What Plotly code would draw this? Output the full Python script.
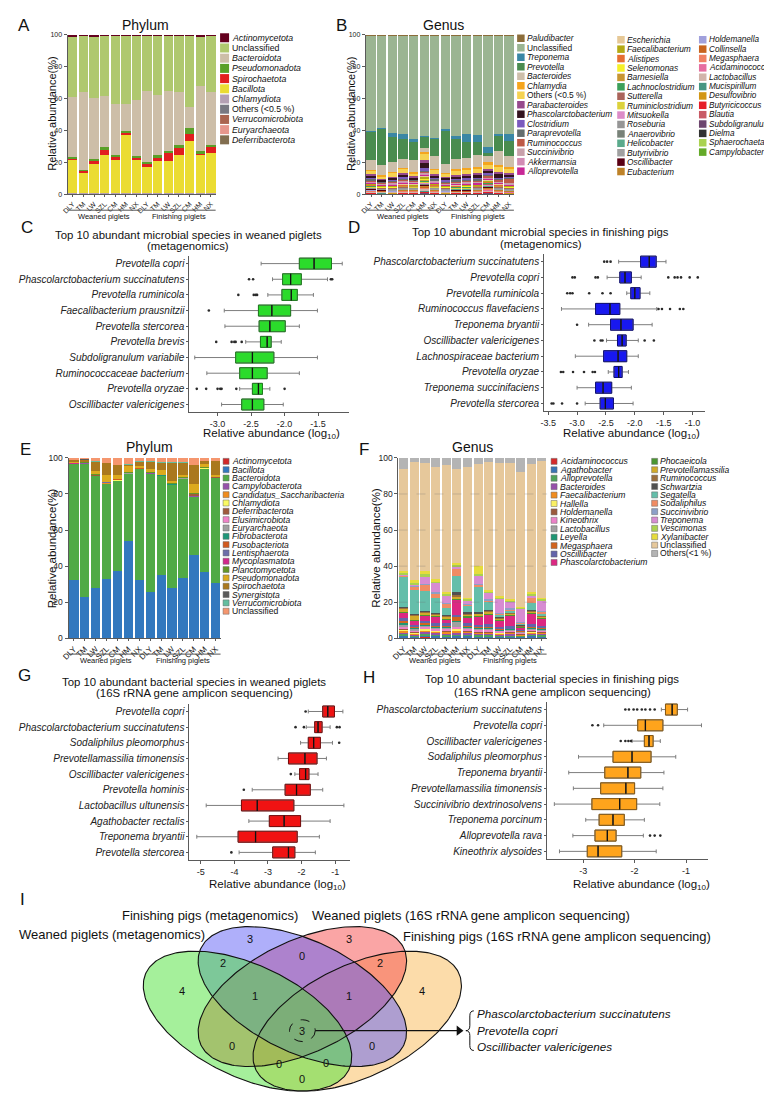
import numpy as np
import plotly.graph_objects as go

FONT = "Liberation Sans, Arial, Helvetica, sans-serif"
W, H = 772, 1100

# ---------------- shared categories ----------------
BREEDS = ["DLY", "TM", "LW", "SZL", "CM", "HM", "NX", "DLY", "TM", "LW", "SZL", "CM", "HM", "NX"]
GROUP_LABELS = ["Weaned piglets", "Finishing piglets"]
BAR_TICKS = [0, 20, 40, 60, 80, 100]

# ---------------- A: phylum, metagenomics (legend order = top of stack first) ----------------
A_TAXA = ["Actinomycetota", "Unclassified", "Bacteroidota", "Pseudomonadota", "Spirochaetota", "Bacillota",
          "Chlamydiota", "Others (&lt;0.5 %)", "Verrucomicrobiota", "Euryarchaeota", "Deferribacterota"]
A_VALUES = {
    "Actinomycetota":    [0.7, 0.5, 0.7, 0.6, 0.6, 0.5, 0.6, 0.6, 0.5, 0.6, 0.6, 0.6, 0.8, 0.6],
    "Unclassified":      [38.6, 35.5, 39.3, 38.3, 43.3, 42.8, 40.7, 34.9, 37.6, 34.9, 35.5, 44.8, 31.8, 35.5],
    "Bacteroidota":      [38.0, 48.9, 38.2, 32.0, 32.0, 17.2, 35.2, 44.5, 37.9, 37.4, 33.2, 13.5, 41.0, 33.6],
    "Pseudomonadota":    [0.8, 0.4, 0.8, 2.0, 0.6, 0.8, 0.6, 0.7, 1.0, 1.5, 2.0, 3.7, 1.0, 0.6],
    "Spirochaetota":     [0.6, 1.0, 2.8, 3.0, 2.4, 1.2, 1.1, 2.6, 2.5, 5.2, 4.2, 4.6, 1.1, 4.1],
    "Bacillota":         [21.3, 13.5, 18.2, 24.0, 21.0, 37.3, 21.7, 16.6, 20.3, 20.3, 24.4, 32.7, 24.4, 25.5],
    "Chlamydiota":       [0.1, 0.1, 0.1, 0.1, 0.1, 0.1, 0.1, 0.1, 0.1, 0.1, 0.1, 0.2, 0.1, 0.1],
    "Others (&lt;0.5 %)": [0.2, 0.2, 0.2, 0.3, 0.2, 0.3, 0.2, 0.2, 0.2, 0.2, 0.2, 0.3, 0.2, 0.2],
    "Verrucomicrobiota": [0.1, 0.1, 0.1, 0.1, 0.1, 0.1, 0.1, 0.1, 0.1, 0.1, 0.1, 0.1, 0.1, 0.1],
    "Euryarchaeota":     [0.1, 0.1, 0.1, 0.1, 0.1, 0.1, 0.1, 0.1, 0.1, 0.1, 0.1, 0.1, 0.1, 0.1],
    "Deferribacterota":  [0.1, 0.1, 0.2, 0.1, 0.1, 0.1, 0.1, 0.1, 0.2, 0.1, 0.1, 0.1, 0.1, 0.1],
}
A_COLORS = {
    "Actinomycetota": "#64001E", "Unclassified": "#AFC86E", "Bacteroidota": "#CDBEA8",
    "Pseudomonadota": "#5AA028", "Spirochaetota": "#E11E1E", "Bacillota": "#EBDC32",
    "Chlamydiota": "#B4A0B4", "Others (&lt;0.5 %)": "#787882", "Verrucomicrobiota": "#AA6450",
    "Euryarchaeota": "#E6968C", "Deferribacterota": "#826E50",
}

# ---------------- B: genus, metagenomics (legend columns; top of stack first) ----------------
B_TAXA_COL1 = ["Paludibacter", "Unclassified", "Treponema", "Prevotella", "Bacteroides", "Chlamydia",
               "Others (&lt;0.5 %)", "Parabacteroides", "Phascolarctobacterium", "Clostridium",
               "Paraprevotella", "Ruminococcus", "Succinivibrio", "Akkermansia", "Alloprevotella"]
B_TAXA_COL2 = ["Escherichia", "Faecalibacterium", "Alistipes", "Selenomonas", "Barnesiella",
               "Lachnoclostridium", "Sutterella", "Ruminiclostridium", "Mitsuokella", "Roseburia",
               "Anaerovibrio", "Helicobacter", "Butyrivibrio", "Oscillibacter", "Eubacterium"]
B_TAXA_COL3 = ["Holdemanella", "Collinsella", "Megasphaera", "Acidaminococcus", "Lactobacillus",
               "Mucispirillum", "Desulfovibrio", "Butyricicoccus", "Blautia", "Subdoligranulum",
               "Dielma", "Sphaerochaeta", "Campylobacter"]
B_VALUES = {
    "Paludibacter":          [0.3, 0.3, 0.3, 0.3, 0.3, 0.3, 0.3, 0.3, 0.4, 0.5, 0.3, 0.3, 0.3, 0.3],
    "Unclassified":          [60.5, 59.5, 61.2, 61.8, 65.5, 63.9, 64.5, 58.7, 63.5, 61.8, 62.8, 70.7, 61.8, 61.8],
    "Treponema":             [0.3, 0.2, 2.7, 3.1, 1.5, 0.6, 0.4, 1.5, 1.4, 4.8, 4.2, 3.5, 1.0, 4.2],
    "Prevotella":            [17.6, 23.4, 15.5, 13.1, 11.6, 7.2, 11.0, 20.5, 13.1, 10.3, 8.3, 2.1, 9.9, 9.3],
    "Bacteroides":           [6.3, 6.6, 6.3, 5.2, 7.6, 2.5, 7.8, 5.5, 6.2, 6.3, 7.4, 3.9, 9.0, 7.4],
    "Chlamydia":             [0.5, 0.3, 0.5, 0.6, 0.6, 1.5, 0.5, 0.5, 0.5, 0.6, 0.5, 1.5, 0.5, 0.5],
    "Others (&lt;0.5 %)":    [2.5, 1.7, 2.5, 2.9, 1.9, 4.0, 3.0, 2.0, 3.0, 2.9, 3.0, 3.0, 3.5, 3.0],
    "Parabacteroides":       [0.8, 0.6, 0.8, 0.9, 0.7, 1.0, 0.8, 0.7, 0.8, 0.9, 1.0, 0.8, 0.9, 0.8],
    "Phascolarctobacterium": [1.5, 1.0, 1.2, 1.8, 1.2, 4.0, 1.5, 1.8, 1.8, 2.0, 2.2, 1.8, 3.0, 1.5],
    "Clostridium":           [0.4, 0.3, 0.4, 0.5, 0.4, 1.0, 0.4, 0.4, 0.4, 0.4, 0.5, 0.6, 0.5, 0.4],
    "Paraprevotella":        [0.8, 0.6, 0.8, 0.8, 0.6, 0.8, 0.8, 0.6, 0.8, 0.8, 0.8, 0.6, 0.7, 0.7],
    "Ruminococcus":          [0.6, 0.5, 0.6, 0.7, 0.6, 1.0, 0.6, 0.6, 0.8, 0.8, 0.7, 1.0, 0.8, 3.0],
    "Succinivibrio":         [0.5, 0.4, 0.6, 0.6, 0.5, 0.6, 0.5, 0.5, 0.6, 0.7, 0.8, 0.5, 0.6, 0.5],
    "Akkermansia":           [0.3, 0.2, 0.3, 0.3, 0.2, 0.5, 0.3, 0.2, 0.3, 0.3, 0.3, 0.5, 0.3, 0.2],
    "Alloprevotella":        [0.6, 0.5, 0.6, 0.7, 0.6, 0.6, 0.6, 0.5, 0.6, 0.7, 0.7, 0.6, 0.6, 0.5],
    "Escherichia":           [0.4, 0.3, 0.3, 0.4, 0.3, 0.8, 0.4, 0.3, 0.3, 0.3, 0.3, 0.5, 0.4, 0.3],
    "Faecalibacterium":      [0.5, 0.4, 0.4, 0.5, 0.5, 0.8, 0.5, 0.4, 0.4, 0.4, 0.4, 0.6, 0.5, 0.3],
    "Alistipes":             [0.3, 0.3, 0.3, 0.3, 0.3, 0.4, 0.3, 0.3, 0.3, 0.3, 0.3, 0.4, 0.3, 0.3],
    "Selenomonas":           [0.2, 0.2, 0.2, 0.3, 0.2, 0.8, 0.3, 0.2, 0.2, 0.2, 0.2, 0.3, 0.2, 0.2],
    "Barnesiella":           [0.3, 0.2, 0.2, 0.3, 0.2, 0.3, 0.3, 0.2, 0.2, 0.3, 0.3, 0.3, 0.3, 0.2],
    "Lachnoclostridium":     [0.3, 0.3, 0.3, 0.3, 0.3, 0.5, 0.3, 0.3, 0.3, 0.3, 0.3, 0.4, 0.3, 0.3],
    "Sutterella":            [0.2, 0.2, 0.2, 0.2, 0.2, 0.3, 0.2, 0.2, 0.2, 0.2, 0.2, 0.3, 0.2, 0.2],
    "Ruminiclostridium":     [0.3, 0.2, 0.2, 0.3, 0.3, 0.6, 0.3, 0.2, 0.2, 0.3, 0.3, 0.4, 0.3, 0.2],
    "Mitsuokella":           [0.2, 0.2, 0.2, 0.2, 0.2, 0.3, 0.2, 0.2, 0.2, 0.2, 0.2, 0.2, 0.2, 0.2],
    "Roseburia":             [0.3, 0.2, 0.2, 0.2, 0.3, 0.3, 0.3, 0.2, 0.2, 0.2, 0.2, 0.3, 0.2, 0.2],
    "Anaerovibrio":          [0.2, 0.2, 0.2, 0.2, 0.2, 0.3, 0.2, 0.2, 0.2, 0.2, 0.2, 0.3, 0.2, 0.2],
    "Helicobacter":          [0.2, 0.1, 0.2, 0.2, 0.2, 0.3, 0.2, 0.2, 0.2, 0.2, 0.2, 0.3, 0.2, 0.2],
    "Butyrivibrio":          [0.2, 0.2, 0.2, 0.2, 0.2, 0.3, 0.2, 0.2, 0.2, 0.2, 0.2, 0.3, 0.2, 0.2],
    "Oscillibacter":         [0.4, 0.3, 0.3, 0.4, 0.4, 0.5, 0.4, 0.3, 0.4, 0.4, 0.4, 0.5, 0.5, 0.3],
    "Eubacterium":           [0.2, 0.2, 0.2, 0.2, 0.2, 0.3, 0.2, 0.2, 0.2, 0.2, 0.2, 0.3, 0.2, 0.2],
    "Holdemanella":          [0.2, 0.2, 0.2, 0.2, 0.2, 0.4, 0.2, 0.2, 0.2, 0.2, 0.2, 0.3, 0.2, 0.2],
    "Collinsella":           [0.2, 0.1, 0.1, 0.2, 0.2, 0.3, 0.2, 0.1, 0.2, 0.2, 0.2, 0.2, 0.2, 0.1],
    "Megasphaera":           [0.3, 0.2, 0.2, 0.3, 0.2, 0.6, 0.3, 0.2, 0.2, 0.2, 0.3, 0.4, 0.3, 0.2],
    "Acidaminococcus":       [0.2, 0.2, 0.2, 0.2, 0.2, 0.3, 0.2, 0.2, 0.2, 0.2, 0.2, 0.3, 0.2, 0.2],
    "Lactobacillus":         [0.6, 0.8, 0.4, 0.5, 0.6, 1.5, 0.5, 0.4, 0.3, 0.3, 0.4, 0.6, 0.4, 0.3],
    "Mucispirillum":         [0.1, 0.1, 0.1, 0.1, 0.1, 0.2, 0.1, 0.1, 0.1, 0.1, 0.1, 0.2, 0.1, 0.1],
    "Desulfovibrio":         [0.2, 0.1, 0.2, 0.2, 0.2, 0.3, 0.2, 0.2, 0.2, 0.2, 0.2, 0.3, 0.2, 0.2],
    "Butyricicoccus":        [0.2, 0.1, 0.2, 0.2, 0.2, 0.3, 0.2, 0.2, 0.2, 0.2, 0.2, 0.3, 0.2, 0.2],
    "Blautia":               [0.2, 0.2, 0.2, 0.2, 0.2, 0.3, 0.2, 0.2, 0.2, 0.2, 0.2, 0.3, 0.2, 0.2],
    "Subdoligranulum":       [0.3, 0.2, 0.2, 0.3, 0.3, 0.4, 0.3, 0.2, 0.3, 0.3, 0.3, 0.4, 0.3, 0.2],
    "Dielma":                [0.1, 0.1, 0.1, 0.1, 0.1, 0.2, 0.1, 0.1, 0.1, 0.1, 0.1, 0.2, 0.1, 0.1],
    "Sphaerochaeta":         [0.2, 0.1, 0.1, 0.2, 0.2, 0.3, 0.2, 0.1, 0.2, 0.2, 0.2, 0.3, 0.2, 0.1],
    "Campylobacter":         [0.1, 0.1, 0.1, 0.1, 0.1, 0.2, 0.1, 0.1, 0.1, 0.1, 0.1, 0.2, 0.1, 0.1],
}
B_COLORS = {
    "Paludibacter": "#8C6D3A", "Unclassified": "#9BB592", "Treponema": "#3A87A5", "Prevotella": "#4A8C4F",
    "Bacteroides": "#CDBFAA", "Chlamydia": "#F5A51E", "Others (&lt;0.5 %)": "#F5D251",
    "Parabacteroides": "#964A8C", "Phascolarctobacterium": "#33141E", "Clostridium": "#7A5ABE",
    "Paraprevotella": "#646E6E", "Ruminococcus": "#BE5A46", "Succinivibrio": "#C8A0AA",
    "Akkermansia": "#D28CB4", "Alloprevotella": "#C82896",
    "Escherichia": "#E6C896", "Faecalibacterium": "#B4AA14", "Alistipes": "#E66E32", "Selenomonas": "#F5F028",
    "Barnesiella": "#C89632", "Lachnoclostridium": "#3CA05A", "Sutterella": "#AA645A",
    "Ruminiclostridium": "#DCD23C", "Mitsuokella": "#DC8CC8", "Roseburia": "#969696",
    "Anaerovibrio": "#788278", "Helicobacter": "#5AAA8C", "Butyrivibrio": "#A0A0A0",
    "Oscillibacter": "#5A0014", "Eubacterium": "#BE8228",
    "Holdemanella": "#A0A0DC", "Collinsella": "#C8641E", "Megasphaera": "#F08264", "Acidaminococcus": "#E66EA0",
    "Lactobacillus": "#D2B4AA", "Mucispirillum": "#469682", "Desulfovibrio": "#D29614",
    "Butyricicoccus": "#E61E28", "Blautia": "#C85A64", "Subdoligranulum": "#6E466E", "Dielma": "#323232",
    "Sphaerochaeta": "#AAD250", "Campylobacter": "#64AA28",
}

# ---------------- E: phylum, 16S (legend order = bottom of stack first) ----------------
E_TAXA = ["Actinomycetota", "Bacillota", "Bacteroidota", "Campylobacterota", "Candidatus_Saccharibacteria",
          "Chlamydiota", "Deferribacterota", "Elusimicrobiota", "Euryarchaeota", "Fibrobacterota",
          "Fusobacteriota", "Lentisphaerota", "Mycoplasmatota", "Planctomycetota", "Pseudomonadota",
          "Spirochaetota", "Synergistota", "Verrucomicrobiota", "Unclassified"]
E_VALUES = {
    "Actinomycetota":              [0.1, 0.1, 0.1, 0.1, 0.1, 0.2, 0.1, 0.1, 0.1, 0.1, 0.1, 0.1, 0.1, 0.1],
    "Bacillota":                   [32.2, 23.0, 28.0, 33.1, 37.7, 54.2, 32.5, 26.0, 35.3, 28.0, 33.5, 46.7, 37.1, 30.7],
    "Bacteroidota":                [65.2, 74.9, 63.0, 53.7, 50.8, 37.8, 62.2, 66.3, 55.5, 57.8, 55.7, 32.7, 57.9, 59.2],
    "Campylobacterota":            [0.05, 0.05, 0.05, 0.05, 0.1, 0.05, 0.05, 0.05, 0.05, 0.05, 0.05, 0.1, 0.05, 0.05],
    "Candidatus_Saccharibacteria": [0.05, 0.05, 0.05, 0.05, 0.05, 0.05, 0.05, 0.05, 0.05, 0.05, 0.05, 0.05, 0.05, 0.05],
    "Chlamydiota":                 [0.05, 0.05, 0.05, 0.1, 0.05, 0.05, 0.05, 0.05, 0.05, 0.05, 0.05, 0.05, 0.05, 0.05],
    "Deferribacterota":            [0.1, 0.1, 0.1, 0.2, 0.3, 0.1, 0.1, 0.1, 0.1, 0.2, 0.2, 1.1, 0.1, 0.1],
    "Elusimicrobiota":             [0.05, 0.05, 0.05, 0.05, 0.05, 0.05, 0.05, 0.05, 0.05, 0.05, 0.05, 0.05, 0.05, 0.05],
    "Euryarchaeota":               [0.05, 0.05, 0.05, 0.05, 0.1, 0.05, 0.05, 0.05, 0.05, 0.05, 0.05, 0.1, 0.05, 0.05],
    "Fibrobacterota":              [0.05, 0.05, 0.05, 0.05, 0.05, 0.05, 0.05, 0.05, 0.05, 0.05, 0.05, 0.05, 0.05, 0.05],
    "Fusobacteriota":              [0.05, 0.05, 0.05, 0.05, 0.05, 0.05, 0.05, 0.05, 0.05, 0.05, 0.05, 0.05, 0.05, 0.05],
    "Lentisphaerota":              [0.05, 0.05, 0.05, 0.05, 0.05, 0.05, 0.05, 0.05, 0.05, 0.05, 0.05, 0.05, 0.05, 0.05],
    "Mycoplasmatota":              [0.05, 0.05, 0.05, 0.05, 0.05, 0.05, 0.05, 0.05, 0.05, 0.05, 0.05, 0.05, 0.05, 0.05],
    "Planctomycetota":             [0.05, 0.05, 0.05, 0.05, 0.05, 0.05, 0.05, 0.05, 0.05, 0.05, 0.05, 0.05, 0.05, 0.05],
    "Pseudomonadota":              [0.6, 0.1, 1.6, 3.8, 2.0, 3.3, 0.8, 1.4, 2.7, 1.2, 1.3, 4.8, 1.5, 0.9],
    "Spirochaetota":               [1.0, 1.5, 5.7, 6.7, 5.8, 1.2, 2.5, 4.4, 4.1, 10.5, 7.1, 11.0, 2.0, 7.7],
    "Synergistota":                [0.05, 0.05, 0.05, 0.05, 0.05, 0.05, 0.05, 0.05, 0.05, 0.05, 0.05, 0.05, 0.05, 0.05],
    "Verrucomicrobiota":           [0.05, 0.05, 0.05, 0.05, 0.05, 0.05, 0.05, 0.05, 0.05, 0.05, 0.05, 0.05, 0.05, 0.05],
    "Unclassified":                [1.0, 0.5, 1.7, 2.7, 3.7, 3.5, 2.0, 1.9, 2.4, 2.5, 2.4, 3.7, 1.5, 1.5],
}
E_COLORS = {
    "Actinomycetota": "#D22828", "Bacillota": "#3278BE", "Bacteroidota": "#50AA46", "Campylobacterota": "#9650AA",
    "Candidatus_Saccharibacteria": "#F08C1E", "Chlamydiota": "#FAFA64", "Deferribacterota": "#A05A3C",
    "Elusimicrobiota": "#F082C8", "Euryarchaeota": "#A0A0A0", "Fibrobacterota": "#1E9678",
    "Fusobacteriota": "#D25A1E", "Lentisphaerota": "#6E6EAA", "Mycoplasmatota": "#D2288C",
    "Planctomycetota": "#649628", "Pseudomonadota": "#DCAA1E", "Spirochaetota": "#AA781E",
    "Synergistota": "#5A5A5A", "Verrucomicrobiota": "#64BEA0", "Unclassified": "#F5966E",
}

# ---------------- F: genus, 16S (legend order = bottom of stack first) ----------------
F_TAXA_COL1 = ["Acidaminococcus", "Agathobacter", "Alloprevotella", "Bacteroides", "Faecalibacterium", "Hallella",
               "Holdemanella", "Kineothrix", "Lactobacillus", "Leyella", "Megasphaera", "Oscillibacter",
               "Phascolarctobacterium"]
F_TAXA_COL2 = ["Phocaeicola", "Prevotellamassilia", "Ruminococcus", "Schwartzia", "Segatella", "Sodaliphilus",
               "Succinivibrio", "Treponema", "Vescimonas", "Xylanibacter", "Unclassified", "Others(&lt;1 %)"]
F_VALUES = {
    "Acidaminococcus":       [0.5, 0.3, 1.0, 0.4, 0.3, 0.4, 0.3, 0.3, 0.3, 0.3, 0.4, 0.3, 0.3, 0.3],
    "Agathobacter":          [1.0, 0.6, 0.8, 1.0, 0.8, 1.0, 1.0, 0.8, 0.8, 0.5, 0.6, 0.6, 1.0, 0.8],
    "Alloprevotella":        [1.0, 0.8, 1.0, 0.8, 1.0, 0.8, 0.8, 1.0, 0.8, 0.8, 0.8, 0.6, 0.8, 0.8],
    "Bacteroides":           [0.5, 0.4, 0.6, 0.8, 0.8, 0.5, 1.0, 0.6, 0.7, 0.6, 1.0, 0.3, 0.8, 0.7],
    "Faecalibacterium":      [1.5, 0.8, 1.2, 0.8, 0.8, 1.5, 0.6, 0.5, 0.5, 0.5, 0.5, 0.4, 0.5, 0.5],
    "Hallella":              [0.3, 0.5, 0.6, 0.4, 0.3, 1.0, 0.3, 0.3, 0.3, 0.3, 0.2, 0.2, 0.3, 0.3],
    "Holdemanella":          [0.5, 0.4, 0.5, 0.4, 0.4, 0.5, 0.4, 0.4, 0.4, 0.3, 0.3, 0.2, 0.4, 0.3],
    "Kineothrix":            [1.0, 0.8, 1.0, 0.8, 1.0, 0.8, 0.8, 0.8, 1.0, 0.8, 0.8, 0.7, 0.7, 0.8],
    "Lactobacillus":         [1.5, 0.8, 0.6, 0.5, 0.8, 2.8, 0.6, 0.5, 0.5, 0.3, 0.3, 0.3, 0.4, 0.3],
    "Leyella":               [0.5, 0.5, 0.5, 0.5, 0.4, 0.5, 0.5, 0.6, 0.5, 0.4, 0.4, 0.3, 0.6, 0.4],
    "Megasphaera":           [1.5, 0.5, 0.8, 0.5, 0.6, 2.0, 0.4, 0.4, 0.4, 0.3, 0.3, 0.2, 0.4, 0.3],
    "Oscillibacter":         [1.5, 1.0, 1.2, 1.5, 1.0, 1.2, 1.5, 1.2, 1.5, 1.4, 1.0, 0.6, 1.5, 1.5],
    "Phascolarctobacterium": [3.0, 2.4, 3.0, 3.7, 2.0, 8.3, 3.6, 4.6, 5.5, 3.6, 6.0, 1.2, 6.0, 4.0],
    "Phocaeicola":           [0.5, 0.5, 0.6, 0.6, 0.8, 0.5, 0.8, 0.5, 0.8, 0.5, 0.6, 0.5, 0.6, 0.6],
    "Prevotellamassilia":    [2.0, 2.5, 1.0, 0.7, 1.0, 1.5, 0.8, 1.0, 0.8, 0.5, 0.6, 0.4, 0.8, 0.6],
    "Ruminococcus":          [0.5, 0.4, 0.5, 0.5, 0.6, 0.5, 0.6, 0.5, 0.6, 0.5, 0.4, 0.4, 0.5, 0.5],
    "Schwartzia":            [0.3, 0.2, 0.3, 0.3, 0.3, 1.8, 0.3, 0.3, 0.3, 0.2, 0.2, 0.2, 0.3, 0.2],
    "Segatella":             [16.5, 13.5, 11.0, 8.0, 3.7, 9.2, 3.7, 14.2, 4.5, 1.2, 1.0, 0.8, 3.7, 1.0],
    "Sodaliphilus":          [0.5, 2.0, 3.4, 2.8, 2.8, 3.7, 0.8, 1.5, 1.0, 0.8, 0.8, 0.5, 2.8, 0.8],
    "Succinivibrio":         [0.3, 0.3, 0.4, 0.4, 0.4, 0.3, 0.3, 0.3, 0.4, 0.4, 0.5, 0.3, 0.4, 0.5],
    "Treponema":             [0.5, 0.5, 4.5, 5.4, 4.0, 0.5, 2.0, 4.6, 3.6, 8.0, 3.6, 7.5, 1.0, 6.0],
    "Vescimonas":            [1.0, 1.0, 1.0, 0.6, 0.6, 1.4, 0.8, 1.0, 0.8, 0.6, 0.8, 0.5, 1.0, 0.8],
    "Xylanibacter":          [1.0, 1.8, 2.0, 1.5, 1.3, 1.0, 0.5, 4.0, 1.0, 0.5, 0.4, 0.3, 0.8, 0.4],
    "Unclassified":          [56.7, 65.3, 59.7, 62.1, 70.6, 52.1, 72.6, 57.0, 70.8, 73.9, 75.7, 75.0, 70.9, 75.9],
    "Others(&lt;1 %)":       [5.9, 2.2, 2.8, 5.0, 3.7, 6.2, 5.0, 3.1, 2.2, 2.8, 2.8, 7.7, 3.5, 1.7],
}
F_COLORS = {
    "Acidaminococcus": "#D62A2A", "Agathobacter": "#3A74B4", "Alloprevotella": "#4FA45A", "Bacteroides": "#9650AA",
    "Faecalibacterium": "#F08C1E", "Hallella": "#FAF064", "Holdemanella": "#9B5A3C", "Kineothrix": "#EB82C8",
    "Lactobacillus": "#A0A0A0", "Leyella": "#1E9673", "Megasphaera": "#D2641E", "Oscillibacter": "#6464AA",
    "Phascolarctobacterium": "#DC2882", "Phocaeicola": "#4B9632", "Prevotellamassilia": "#D2AA28",
    "Ruminococcus": "#9B6E3C", "Schwartzia": "#505050", "Segatella": "#64BEAA", "Sodaliphilus": "#F08C64",
    "Succinivibrio": "#8CA0C8", "Treponema": "#D78CD2", "Vescimonas": "#AAD250", "Xylanibacter": "#E6DC3C",
    "Unclassified": "#E6C89B", "Others(&lt;1 %)": "#B4B4B4",
}
PLAIN_NAMES = {"Unclassified", "Others (&lt;0.5 %)", "Others(&lt;1 %)"}

# ---------------- C: top 10 species, weaned, metagenomics (log10) ----------------
C_SPECIES = ["Prevotella copri", "Phascolarctobacterium succinatutens", "Prevotella ruminicola",
             "Faecalibacterium prausnitzii", "Prevotella stercorea", "Prevotella brevis",
             "Subdoligranulum variabile", "Ruminococcaceae bacterium", "Prevotella oryzae",
             "Oscillibacter valericigenes"]
C_LOWER = [-2.35, -2.18, -2.25, -2.90, -2.89, -2.58, -3.34, -3.16, -2.67, -2.94]
C_Q1 = [-1.78, -2.03, -2.04, -2.39, -2.38, -2.36, -2.73, -2.67, -2.48, -2.64]
C_MEDIAN = [-1.56, -1.91, -1.90, -2.19, -2.22, -2.26, -2.48, -2.48, -2.39, -2.48]
C_Q3 = [-1.30, -1.75, -1.81, -1.91, -1.99, -2.20, -2.16, -2.26, -2.33, -2.31]
C_UPPER = [-1.14, -1.36, -1.57, -1.51, -1.78, -2.05, -1.51, -1.78, -2.22, -2.02]
C_OUTLIERS = [[], [-2.53, -2.47, -1.31, -1.29], [-2.69, -2.46, -2.43, -2.41], [-3.13], [],
              [-3.02, -2.79, -2.75, -2.73, -2.64], [], [], [-3.31, -3.17, -3.00, -2.96, -2.94, -2.72, -2.00], []]
C_TICKS = [-3.0, -2.5, -2.0, -1.5]
C_TICKTEXT = ["-3.0", "-2.5", "-2.0", "-1.5"]

# ---------------- D: top 10 species, finishing, metagenomics ----------------
D_SPECIES = ["Phascolarctobacterium succinatutens", "Prevotella copri", "Prevotella ruminicola",
             "Ruminococcus flavefaciens", "Treponema bryantii", "Oscillibacter valericigenes",
             "Lachnospiraceae bacterium", "Prevotella oryzae", "Treponema succinifaciens", "Prevotella stercorea"]
D_LOWER = [-2.28, -2.48, -2.14, -3.27, -2.80, -2.49, -3.03, -2.46, -3.00, -2.86]
D_Q1 = [-1.90, -2.26, -2.07, -2.68, -2.42, -2.30, -2.54, -2.36, -2.68, -2.60]
D_MEDIAN = [-1.75, -2.17, -2.00, -2.43, -2.24, -2.22, -2.29, -2.28, -2.55, -2.51]
D_Q3 = [-1.63, -2.06, -1.91, -2.26, -2.03, -2.15, -2.14, -2.22, -2.40, -2.37]
D_UPPER = [-1.46, -1.89, -1.74, -1.62, -1.70, -1.94, -1.94, -2.11, -2.06, -2.03]
D_OUTLIERS = [[-2.53, -2.48, -2.42],
              [-3.08, -3.04, -2.68, -2.64, -1.42, -1.31, -1.26, -1.20, -1.05, -0.91],
              [-3.17, -3.12, -3.08, -2.79, -2.56, -2.42],
              [-1.59, -1.53, -1.39, -1.22, -1.16], [-3.00], [-2.70, -2.59, -2.56, -1.83, -1.67], [],
              [-3.28, -3.24, -3.07, -2.88, -2.73, -2.69], [], [-3.44, -3.41, -3.26, -3.00]]
D_TICKS = [-3.5, -3.0, -2.5, -2.0, -1.5, -1.0]
D_TICKTEXT = ["-3.5", "-3.0", "-2.5", "-2.0", "-1.5", "-1.0"]

# ---------------- G: top 10 species, weaned, 16S ----------------
G_SPECIES = ["Prevotella copri", "Phascolarctobacterium succinatutens", "Sodaliphilus pleomorphus",
             "Prevotellamassilia timonensis", "Oscillibacter valericigenes", "Prevotella hominis",
             "Lactobacillus ultunensis", "Agathobacter rectalis", "Treponema bryantii", "Prevotella stercorea"]
G_LOWER = [-1.80, -1.86, -2.03, -2.70, -2.20, -3.47, -4.84, -3.57, -5.12, -3.86]
G_Q1 = [-1.37, -1.61, -1.80, -2.39, -2.06, -2.49, -3.79, -2.96, -3.89, -2.86]
G_MEDIAN = [-1.22, -1.51, -1.64, -1.90, -1.88, -2.15, -3.32, -2.52, -3.37, -2.39]
G_Q3 = [-1.02, -1.39, -1.44, -1.54, -1.78, -1.74, -2.23, -2.03, -2.13, -2.20]
G_UPPER = [-0.77, -1.15, -1.08, -1.26, -1.51, -1.37, -0.74, -1.15, -1.47, -1.59]
G_OUTLIERS = [[-1.88], [-2.18, -1.93, -0.95, -0.87], [-0.88], [], [-2.32], [-3.72], [], [], [], [-4.09]]
G_TICKS = [-5, -4, -3, -2, -1]
G_TICKTEXT = ["-5", "-4", "-3", "-2", "-1"]

# ---------------- H: top 10 species, finishing, 16S ----------------
H_SPECIES = ["Phascolarctobacterium succinatutens", "Prevotella copri", "Oscillibacter valericigenes",
             "Sodaliphilus pleomorphus", "Treponema bryantii", "Prevotellamassilia timonensis",
             "Succinivibrio dextrinosolvens", "Treponema porcinum", "Alloprevotella rava", "Kineothrix alysoides"]
H_LOWER = [-1.48, -2.60, -2.05, -3.09, -3.28, -3.19, -3.56, -2.95, -3.20, -3.46]
H_Q1 = [-1.40, -1.94, -1.81, -2.42, -2.58, -2.66, -2.83, -2.69, -2.77, -2.92]
H_MEDIAN = [-1.27, -1.79, -1.72, -2.05, -2.13, -2.17, -2.29, -2.42, -2.53, -2.71]
H_Q3 = [-1.17, -1.45, -1.64, -1.68, -1.88, -2.00, -1.96, -2.20, -2.36, -2.25]
H_UPPER = [-0.97, -0.70, -1.50, -1.20, -1.43, -1.45, -1.51, -1.81, -1.83, -1.58]
H_OUTLIERS = [[-2.18, -2.11, -2.02, -1.95, -1.86, -1.79, -1.70, -1.61], [-2.82, -2.71],
              [-2.27, -2.18, -2.12, -2.07], [], [], [], [], [], [-1.70, -1.61, -1.50], []]
H_TICKS = [-3, -2, -1]
H_TICKTEXT = ["-3", "-2", "-1"]

# ---------------- I: Venn diagram ----------------
VENN_SETS = ["Weaned piglets (metagenomics)", "Finishing pigs (metagenomics)",
             "Weaned piglets (16S rRNA gene amplicon sequencing)",
             "Finishing pigs (16S rRNA gene amplicon sequencing)"]
VENN_REGIONS = ["A", "B", "C", "D", "AB", "BC", "CD", "ABC", "BCD", "ABCD", "AC", "BD", "ACD", "ABD", "AD"]
VENN_COUNTS = [4, 3, 3, 4, 2, 0, 2, 1, 1, 3, 0, 0, 0, 0, 0]
SHARED_SPECIES = ["Phascolarctobacterium succinatutens", "Prevotella copri", "Oscillibacter valericigenes"]

# ======================= layout helpers (positions / styles) =======================
def dx(a, b):
    return [a / W, b / W]


def dy(top, bottom):
    return [1 - bottom / H, 1 - top / H]


fig = go.Figure()
layout = {}
X_POS = list(range(len(BREEDS)))
AX_LINE = "#5a5a5a"
annotations = []
shapes = []


def ax_key(kind, n):
    return kind + ("axis" if n == 1 else "axis%d" % n)


def ref(kind, n):
    return kind if n == 1 else "%s%d" % (kind, n)


def text(x, y, s, size, xanchor="center", angle=0, color="#111"):
    annotations.append(dict(x=x, y=y, xref="x9", yref="y9", text=s, showarrow=False,
                            font=dict(family=FONT, size=size, color=color), xanchor=xanchor,
                            yanchor="middle", textangle=angle))


def stacked_panel(n, order_bottom_up, values, colors, xpx, ypx, barw, tsize, ysize):
    for name in order_bottom_up:
        fig.add_trace(go.Bar(x=X_POS, y=values[name], width=barw,
                             marker=dict(color=colors[name], line=dict(width=0)),
                             xaxis=ref("x", n), yaxis=ref("y", n), showlegend=False, hoverinfo="skip"))
    layout[ax_key("x", n)] = dict(domain=dx(*xpx), anchor=ref("y", n), range=[-0.5, len(BREEDS) - 0.5],
                                  tickmode="array", tickvals=X_POS, ticktext=BREEDS, tickangle=-45,
                                  tickfont=dict(size=tsize, color="#222"), showline=True, linecolor=AX_LINE,
                                  linewidth=1, ticks="outside", ticklen=2, tickcolor=AX_LINE,
                                  showgrid=False, zeroline=False, fixedrange=True)
    layout[ax_key("y", n)] = dict(domain=dy(*ypx), anchor=ref("x", n), range=[0, 100], tickmode="array",
                                  tickvals=BAR_TICKS, tickfont=dict(size=ysize, color="#222"),
                                  showline=True, linecolor=AX_LINE, linewidth=1, ticks="outside",
                                  ticklen=3, tickcolor=AX_LINE, showgrid=False, zeroline=False,
                                  fixedrange=True)


def group_brackets(xpx, line_y, lab_y):
    # brackets spanning bar positions 0-6 and 7-13, converted to pixels
    x0, x1 = xpx
    n = len(BREEDS)
    to_px = lambda v: x0 + (v + 0.5) / n * (x1 - x0)
    for g, (a, b) in enumerate([(-0.45, 6.4), (6.6, n - 0.55)]):
        shapes.append(dict(type="line", xref="x9", yref="y9", x0=to_px(a), x1=to_px(b), y0=line_y,
                           y1=line_y, line=dict(color="#555", width=1)))
        text((to_px(a) + to_px(b)) / 2, lab_y, GROUP_LABELS[g], 7.5)


def box_panel(n, species, lo, q1, med, q3, hi, outliers, fill, edge, xdom, ydom, xr, ticks, ticktext):
    xa, ya = ref("x", n), ref("y", n)
    common = dict(y=species, orientation="h", width=0.7, xaxis=xa, yaxis=ya, showlegend=False,
                  hoverinfo="skip", boxpoints=False)
    fig.add_trace(go.Box(q1=q1, median=med, q3=q3, lowerfence=lo, upperfence=hi, fillcolor=fill,
                         line=dict(color="#7d7d7d", width=1), whiskerwidth=0.35, **common))
    fig.add_trace(go.Box(q1=q1, median=med, q3=q3, lowerfence=q1, upperfence=q3,
                         fillcolor="rgba(0,0,0,0)", line=dict(color=edge, width=1), whiskerwidth=0, **common))
    fig.add_trace(go.Box(q1=med, median=med, q3=med, lowerfence=med, upperfence=med,
                         fillcolor="rgba(0,0,0,0)", line=dict(color="#111", width=1.3), whiskerwidth=0,
                         **common))
    ox, oy = [], []
    for s, pts in zip(species, outliers):
        ox += pts
        oy += [s] * len(pts)
    fig.add_trace(go.Scatter(x=ox, y=oy, mode="markers", marker=dict(size=2.6, color="#2a2a2a"),
                             xaxis=xa, yaxis=ya, showlegend=False, hoverinfo="skip"))
    layout[ax_key("x", n)] = dict(domain=xdom, anchor=ya, range=xr, tickmode="array", tickvals=ticks,
                                  ticktext=ticktext, tickfont=dict(size=9, color="#222"),
                                  showline=True, linecolor=AX_LINE, linewidth=1, ticks="outside",
                                  ticklen=3, tickcolor=AX_LINE, showgrid=False, zeroline=False,
                                  fixedrange=True)
    layout[ax_key("y", n)] = dict(domain=ydom, anchor=xa, type="category", categoryorder="array",
                                  categoryarray=species, range=[len(species) - 0.5, -0.5],
                                  tickfont=dict(size=10, color="#222", style="italic"),
                                  showline=True, linecolor=AX_LINE, linewidth=1, ticks="outside",
                                  ticklen=2, tickcolor=AX_LINE, showgrid=False, zeroline=False,
                                  fixedrange=True)


# ---- stacked bar panels ----
PX_A, PX_B, PX_E, PX_F = (53, 203), (354, 504), (54, 208), (387, 537)
stacked_panel(1, A_TAXA[::-1], A_VALUES, A_COLORS, PX_A, (22, 183), 0.88, 7, 7)
B_TAXA = B_TAXA_COL1 + B_TAXA_COL2 + B_TAXA_COL3
stacked_panel(2, B_TAXA[::-1], B_VALUES, B_COLORS, PX_B, (22, 183), 0.88, 7, 7)
stacked_panel(5, E_TAXA, E_VALUES, E_COLORS, PX_E, (449, 631), 0.85, 8, 8.5)
F_TAXA = F_TAXA_COL1 + F_TAXA_COL2
stacked_panel(6, F_TAXA, F_VALUES, F_COLORS, PX_F, (449, 631), 0.86, 8, 8.5)
for xpx, ly, ty in [(PX_A, 199, 205.5), (PX_B, 199, 205.5), (PX_E, 647, 653.5), (PX_F, 647, 653.5)]:
    group_brackets(xpx, ly, ty)

# ---- box panels ----
box_panel(3, C_SPECIES, C_LOWER, C_Q1, C_MEDIAN, C_Q3, C_UPPER, C_OUTLIERS, "#2BDB2B", "#1C7F1C",
          dx(176, 337), dy(245, 403), [-3.42, -1.04], C_TICKS, C_TICKTEXT)
box_panel(4, D_SPECIES, D_LOWER, D_Q1, D_MEDIAN, D_Q3, D_UPPER, D_OUTLIERS, "#1818F0", "#0A0A7A",
          dx(534, 696), dy(243, 402), [-3.57, -0.79], D_TICKS, D_TICKTEXT)
box_panel(7, G_SPECIES, G_LOWER, G_Q1, G_MEDIAN, G_Q3, G_UPPER, G_OUTLIERS, "#F01212", "#7A0A0A",
          dx(176, 338), dy(697, 855), [-5.34, -0.56], G_TICKS, G_TICKTEXT)
box_panel(8, H_SPECIES, H_LOWER, H_Q1, H_MEDIAN, H_Q3, H_UPPER, H_OUTLIERS, "#FFA41C", "#8A5A10",
          dx(537, 699), dy(695, 854), [-3.70, -0.58], H_TICKS, H_TICKTEXT)

# ---- overlay pixel axis (legends, labels, Venn) ----
layout["xaxis9"] = dict(domain=[0, 1], anchor="y9", range=[0, W], visible=False, fixedrange=True)
layout["yaxis9"] = dict(domain=[0, 1], anchor="x9", range=[H, 0], visible=False, fixedrange=True)


def lab(name):
    return name if name in PLAIN_NAMES else "<i>%s</i>" % name


def legend_column(names, colors, x_sq, y0, step, size, fsize, border=0):
    ys = [y0 + i * step for i in range(len(names))]
    fig.add_trace(go.Scatter(x=[x_sq] * len(names), y=ys, mode="markers",
                             marker=dict(symbol="square", size=size, color=[colors[nm] for nm in names],
                                         line=dict(width=border, color="#666")),
                             xaxis="x9", yaxis="y9", showlegend=False, hoverinfo="skip", cliponaxis=False))
    gap = size / 2 + 1.5
    for nm, yy in zip(names, ys):
        annotations.append(dict(x=x_sq + gap, y=yy, xref="x9", yref="y9", text=lab(nm), showarrow=False,
                                font=dict(family=FONT, size=fsize, color="#111"), xanchor="left",
                                yanchor="middle", borderpad=0))


legend_column(A_TAXA, A_COLORS, 211.5, 25, 10.3, 9, 8.8)
legend_column(B_TAXA_COL1, B_COLORS, 510.5, 25.5, 9.58, 7.5, 8.4)
legend_column(B_TAXA_COL2, B_COLORS, 611.5, 27, 9.5, 7.5, 8.4)
legend_column(B_TAXA_COL3, B_COLORS, 694, 27, 9.45, 7.5, 8.2)
legend_column(E_TAXA, E_COLORS, 213, 452.5, 8.4, 6, 8.6, 0.5)
legend_column(F_TAXA_COL1, F_COLORS, 544, 452.5, 8.5, 6, 8.6, 0.5)
legend_column(F_TAXA_COL2, F_COLORS, 645.5, 452.5, 8.45, 6, 8.6, 0.5)

# panel letters
for letter, (lx, ly) in zip("ABCDEFGHI", [(9, 13), (329, 13), (12, 216), (342, 216), (11, 441),
                                        (352, 441), (10, 669), (357, 671), (8, 895)]):
    text(lx, ly, letter, 17)

# bar panel titles & y titles
text(132, 12, "Phylum", 14)
text(432, 12, "Genus", 14)
text(136, 438, "Phylum", 14)
text(462, 438, "Genus", 14)
for yx, yy in [(37, 102), (339, 102)]:
    text(yx, yy, "Relative abundance(%)", 11, angle=-90)
for yx, yy in [(37.5, 540), (364, 540)]:
    text(yx, yy, "Relative abundance(%)", 11.5, angle=-90)

# box panel titles and x titles
text(175, 224, "Top 10 abundant microbial species in weaned piglets", 11.4)
text(175, 235.5, "(metagenomics)", 11.4)
text(530, 220.5, "Top 10 abundant microbial species in finishing pigs", 11.4)
text(531, 233, "(metagenomics)", 11.4)
text(181, 675, "Top 10 abundant bacterial species in weaned piglets", 11.4)
text(181, 686.5, "(16S rRNA gene amplicon sequencing)", 11.4)
text(542, 672.5, "Top 10 abundant bacterial species in finishing pigs", 11.4)
text(542, 685, "(16S rRNA gene amplicon sequencing)", 11.4)
for cx, cy in [(259, 425), (622, 425), (265, 880), (632, 880)]:
    text(cx, cy, "Relative abundance (log<sub>10</sub>)", 11.5)

# F dashed grid lines drawn over bars
for gv in [20, 40, 60, 80]:
    shapes.append(dict(type="line", xref="x6 domain", yref="y6", x0=0, x1=1, y0=gv, y1=gv,
                       line=dict(color="rgba(110,110,110,0.35)", width=0.8, dash="dash"), layer="above"))

# ---- Venn diagram (I) ----
VENN_CENTERS = [(0.35, 0.47), (0.50, 0.57), (0.50, 0.57), (0.65, 0.47)]
VENN_ANGLES = [-45, -45, 45, 45]
VENN_AXES = (0.35, 0.20)
VENN_FILLS = ["rgba(75,225,55,0.5)", "rgba(95,95,245,0.5)", "rgba(245,75,75,0.5)", "rgba(249,185,85,0.5)"]
VENN_DRAW_ORDER = [3, 2, 1, 0]
VENN_LABEL_XY = {"A": (169, 987), "B": (237, 934), "C": (337, 934), "D": (411, 987), "AB": (210, 959),
                 "BC": (290, 952), "CD": (368, 959), "ABC": (242, 992), "BCD": (337, 992),
                 "ABCD": (290, 1027), "AC": (219, 1042), "BD": (360, 1042), "ACD": (266, 1061),
                 "ABD": (314, 1060), "AD": (290, 1076)}
VENN_SET_LABEL_XY = [(2, 930), (106, 911), (298, 911), (390, 932)]


def venn_px(u, v):
    return 290 + (u - 0.5) * 369, 1088 - (v - 0.185) * 247.8


tt = np.linspace(0, 2 * np.pi, 241)
outlines = {}
for k in VENN_DRAW_ORDER:
    (cu, cv), ang, fill = VENN_CENTERS[k], VENN_ANGLES[k], VENN_FILLS[k]
    th = np.radians(ang)
    a, b = VENN_AXES
    u = cu + a * np.cos(tt) * np.cos(th) - b * np.sin(tt) * np.sin(th)
    v = cv + a * np.cos(tt) * np.sin(th) + b * np.sin(tt) * np.cos(th)
    px, py = venn_px(u, v)
    outlines[k] = (px, py)
    fig.add_trace(go.Scatter(x=px, y=py, mode="lines", fill="toself", fillcolor=fill,
                             line=dict(width=0), xaxis="x9", yaxis="y9", showlegend=False,
                             hoverinfo="skip"))
for k in VENN_DRAW_ORDER:
    px, py = outlines[k]
    fig.add_trace(go.Scatter(x=px, y=py, mode="lines", line=dict(color="#111", width=1.1),
                             xaxis="x9", yaxis="y9", showlegend=False, hoverinfo="skip"))

for region, count in zip(VENN_REGIONS, VENN_COUNTS):
    text(VENN_LABEL_XY[region][0], VENN_LABEL_XY[region][1], str(count), 11)

for name, (lx, ly) in zip(VENN_SETS, VENN_SET_LABEL_XY):
    text(lx, ly, name, 13, xanchor="left")

# dashed highlight, arrow and brace
shapes.append(dict(type="circle", xref="x9", yref="y9", x0=277, x1=303, y0=1016, y1=1038,
                   line=dict(color="#111", width=1, dash="dash")))
shapes.append(dict(type="line", xref="x9", yref="y9", x0=303, x1=447, y0=1027, y1=1027,
                   line=dict(color="#111", width=1.3)))
fig.add_trace(go.Scatter(x=[448], y=[1027], mode="markers",
                         marker=dict(symbol="triangle-right", size=9, color="#111"),
                         xaxis="x9", yaxis="y9", showlegend=False, hoverinfo="skip", cliponaxis=False))
shapes.append(dict(type="path", xref="x9", yref="y9",
                   path="M 463,1007 Q 459,1007 459,1012 L 459,1022 Q 459,1027 455,1027 "
                        "Q 459,1027 459,1032 L 459,1042 Q 459,1047 463,1047",
                   line=dict(color="#111", width=1)))
for i, sp in enumerate(SHARED_SPECIES):
    text(464, 1010 + i * 16.5, "<i>%s</i>" % sp, 11.7, xanchor="left")

layout.update(dict(
    width=W, height=H, autosize=False, margin=dict(l=0, r=0, t=0, b=0),
    paper_bgcolor="white", plot_bgcolor="rgba(0,0,0,0)",
    barmode="stack", barnorm="percent", boxmode="overlay",
    font=dict(family=FONT, size=10, color="#222"),
    showlegend=False, annotations=annotations, shapes=shapes,
))
fig.update_layout(**layout)
fig.write_html("out.html")
